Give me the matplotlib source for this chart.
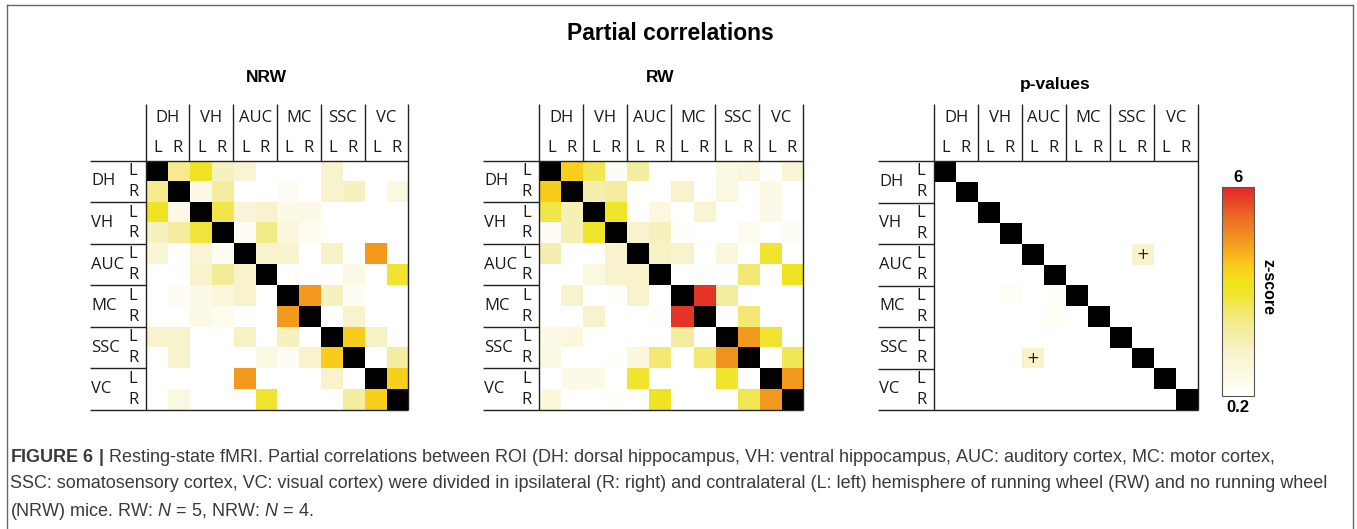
import numpy as np
import matplotlib
matplotlib.use("Agg")
from matplotlib import pyplot as plt
from matplotlib.colors import LinearSegmentedColormap, Normalize
from matplotlib.lines import Line2D
from matplotlib.cm import ScalarMappable

nan = np.nan

# regions, each split in left / right hemisphere
regions = ["DH", "VH", "AUC", "MC", "SSC", "VC"]
sides = ["L", "R"]

# z-scores (nan = diagonal, drawn black)
nrw = [
    [nan, 2.2, 3.2, 1.6, 1.2, 0, 0, 0, 1.4, 0, 0, 0],
    [2.2, nan, 0.7, 2.0, 0, 0, 0.4, 0, 1.4, 1.6, 0, 0.9],
    [3.2, 0.7, nan, 2.8, 1.1, 1.4, 0.7, 0.7, 0, 0, 0, 0],
    [1.6, 2.0, 2.9, nan, 0.4, 2.3, 1.0, 0.5, 0, 0, 0, 0],
    [1.1, 0, 1.2, 0.4, nan, 1.4, 1.3, 0, 1.5, 0, 4.5, 0],
    [0, 0, 1.4, 2.1, 1.4, nan, 0, 0, 0, 0.8, 0, 3.0],
    [0, 0.4, 0.7, 1.0, 1.4, 0, nan, 4.5, 1.6, 0.4, 0, 0],
    [0, 0, 0.7, 0.5, 0, 0, 4.5, nan, 0, 1.4, 0, 0],
    [1.4, 1.4, 0, 0, 1.5, 0, 1.6, 0, nan, 3.8, 1.5, 0],
    [0, 1.4, 0, 0, 0, 0.8, 0.4, 1.4, 3.8, nan, 0, 2.0],
    [0, 0, 0, 0, 4.5, 0, 0, 0, 1.4, 0, nan, 3.7],
    [0, 0.9, 0, 0, 0, 3.0, 0, 0, 0, 2.0, 3.7, nan],
]

rw = [
    [nan, 3.7, 2.7, 0.4, 2.0, 0, 0, 0, 0.8, 1.0, 0, 1.1],
    [3.8, nan, 1.8, 2.0, 0, 0, 1.4, 0, 0.9, 0, 0.7, 0],
    [2.8, 1.7, nan, 3.1, 0, 0.9, 0, 1.2, 0, 0, 0.7, 0],
    [0.4, 1.7, 3.1, nan, 1.4, 1.6, 0.3, 0, 0, 0.5, 0, 0.4],
    [1.8, 0, 0, 1.4, nan, 1.5, 1.4, 0, 1.0, 0, 3.0, 0],
    [0, 0, 0.9, 1.4, 1.4, nan, 0, 0.3, 0, 2.5, 0, 3.2],
    [0, 1.4, 0, 0.3, 1.4, 0, nan, 5.8, 2.0, 0, 0, 0],
    [0, 0, 1.4, 0, 0, 0.3, 5.8, nan, 0, 2.5, 0, 0],
    [0.7, 1.0, 0, 0, 0, 0, 2.0, 0, nan, 4.5, 3.0, 0],
    [0.8, 0, 0, 0.3, 1.0, 2.5, 0, 2.5, 4.6, nan, 0, 2.7],
    [0, 0.7, 0.7, 0, 3.0, 0, 0, 0, 3.0, 0, nan, 4.5],
    [1.0, 0, 0, 0.3, 0, 3.2, 0, 0, 0, 2.7, 4.5, nan],
]

pvals = np.zeros((12, 12))
np.fill_diagonal(pvals, nan)
pvals[4, 9] = 1.4
pvals[9, 4] = 1.4
pvals[6, 3] = 0.35
pvals[6, 5] = 0.3
pvals[7, 5] = 0.35
plus_cells = [(4, 9), (9, 4)]

zmin, zmax = 0.2, 6

cmap = LinearSegmentedColormap.from_list("zscore", [
    (0.00, "#ffffff"), (0.05, "#fefdf0"), (0.12, "#fbf8e0"),
    (0.21, "#f8f3cc"), (0.31, "#f4eda0"), (0.40, "#f2e870"),
    (0.48, "#f0e430"), (0.54, "#f0e41a"), (0.62, "#f9cc1c"),
    (0.74, "#f39a1e"), (0.87, "#eb6424"), (1.00, "#e3262a"),
])
cmap.set_bad("black")
cmap.set_under("white")
norm = Normalize(zmin, zmax)

W, H = 1357, 529
fig = plt.figure(figsize=(W / 100, H / 100), dpi=100)

lab_font = "Open Sans"
title_font = "Liberation Sans"


def px_axes(x0, y0, x1, y1):
    return fig.add_axes([x0 / W, 1 - y1 / H, (x1 - x0) / W, (y1 - y0) / H])


def ftext(x, y, s, **kw):
    fig.text(x / W, 1 - y / H, s, **kw)


def matrix_panel(box, data, title, title_y, pluses=()):
    x0, y0, x1, y1 = box
    ax = px_axes(x0, y0, x1, y1)
    ax.imshow(np.array(data, dtype=float), cmap=cmap, norm=norm,
              extent=(0, 12, 12, 0), aspect="auto", interpolation="nearest")
    ax.set_xlim(0, 12)
    ax.set_ylim(12, 0)
    ax.axis("off")
    cw = (x1 - x0) / 12
    ch = (y1 - y0) / 12
    top = -(y0 - 104) / ch
    left = -56 / cw
    lk = dict(color="#222222", lw=1.0, clip_on=False, solid_capstyle="butt")
    for g in range(7):
        ax.plot([2 * g, 2 * g], [top, 0 if 0 < g < 6 else 12], **lk)
        ax.plot([left, 0 if 0 < g < 6 else 12], [2 * g, 2 * g], **lk)
    tk = dict(fontsize=12, family=lab_font, color="#1a1a1a", va="center")
    for g, name in enumerate(regions):
        ax.text(2 * g + 1, -2.07, name, ha="center", **tk)
        ax.text(-2.5, 2 * g + 1, name, ha="left", **tk)
        for k, sd in enumerate(sides):
            ax.text(2 * g + 0.55 + 0.9 * k, -0.63, sd, ha="center", **tk)
            ax.text(-0.58, 2 * g + 0.5 + k, sd, ha="center", **tk)
    for r, c in pluses:
        ax.text(c + 0.5, r + 0.5, "+", ha="center", va="center",
                fontsize=11, color="#222222")
    ftext((x0 + x1) / 2 - 0.5 * cw, title_y, title, ha="center", va="center",
          fontsize=12.5, fontweight="bold", family=title_font)
    return ax


matrix_panel((145.7, 160.7, 408.3, 410), nrw, "NRW", 78)
matrix_panel((539.3, 160.7, 803.3, 410), rw, "RW", 78)
matrix_panel((934, 161, 1198, 410), pvals, "p-values", 84, plus_cells)

ftext(670, 33, "Partial correlations", ha="center", va="center",
      fontsize=16.5, fontweight="bold", family=title_font)

# colour bar
cax = px_axes(1222, 187, 1254, 396)
cb = fig.colorbar(ScalarMappable(norm=norm, cmap=cmap), cax=cax)
cb.set_ticks([])
cb.outline.set_edgecolor("#555555")
cb.outline.set_linewidth(0.8)
ftext(1238, 178, "6", ha="center", va="center", fontsize=12,
      fontweight="bold", family=title_font)
ftext(1238, 407, "0.2", ha="center", va="center", fontsize=12,
      fontweight="bold", family=title_font)
ftext(1268, 287, "z-score", ha="center", va="center", fontsize=11.5,
      fontweight="bold", family=title_font, rotation=-90)

# outer frame
frame = dict(color="#666666", lw=1.0, transform=fig.transFigure)
fig.add_artist(Line2D([7 / W, 7 / W], [0, 1 - 5 / H], **frame))
fig.add_artist(Line2D([7 / W, 1353 / W], [1 - 5 / H, 1 - 5 / H], **frame))
fig.add_artist(Line2D([1353 / W, 1353 / W], [0, 1 - 5 / H], **frame))

# caption
cap_font = "Liberation Sans"
plt.rcParams["mathtext.fontset"] = "custom"
plt.rcParams["mathtext.bf"] = cap_font + ":bold"
plt.rcParams["mathtext.it"] = cap_font + ":italic"
plt.rcParams["mathtext.rm"] = cap_font
caption = [
    r"$\mathbf{FIGURE\ 6\ |}$ Resting-state fMRI. Partial correlations between ROI "
    r"(DH: dorsal hippocampus, VH: ventral hippocampus, AUC: auditory cortex, MC: motor cortex,",
    "SSC: somatosensory cortex, VC: visual cortex) were divided in ipsilateral (R: right) "
    "and contralateral (L: left) hemisphere of running wheel (RW) and no running wheel",
    r"(NRW) mice. RW: $N$ = 5, NRW: $N$ = 4.",
]
for i, line in enumerate(caption):
    ftext(10, 457 + 27 * i, line, ha="left", va="center", fontsize=13,
          family=cap_font, color="#3a3a3a")

fig.savefig("out.png", dpi=100)
